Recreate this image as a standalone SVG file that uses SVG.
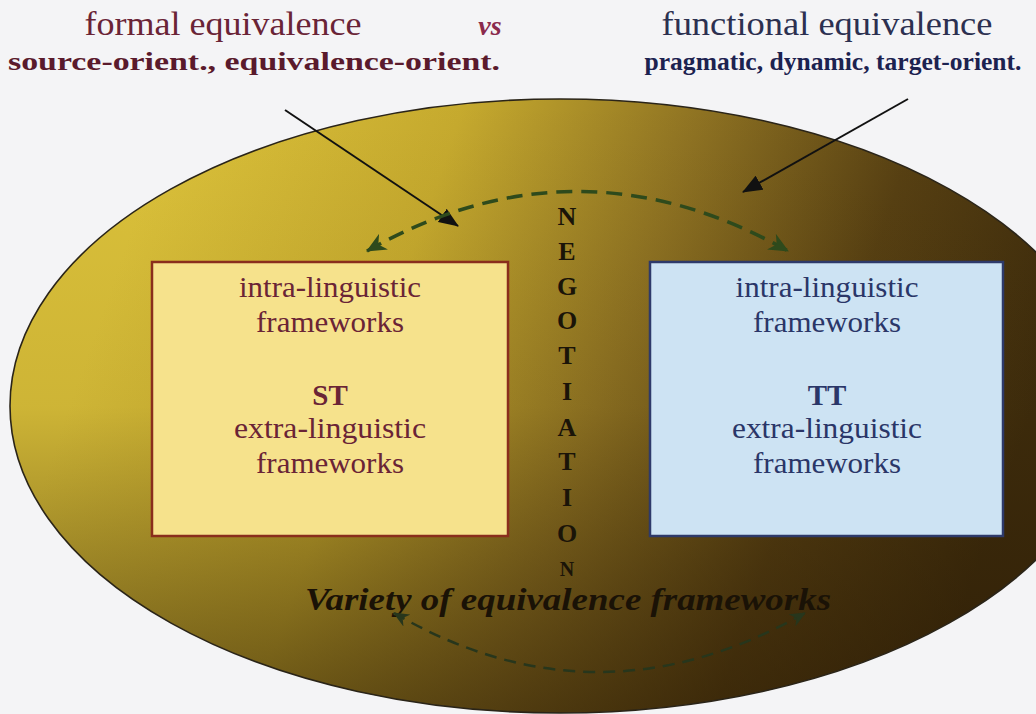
<svg xmlns="http://www.w3.org/2000/svg" width="1036" height="714" viewBox="0 0 1036 714">
  <style>
    .serif { font-family: "Liberation Serif", "Times New Roman", serif; }
    .maroon { fill: #6a2436; }
    .navy { fill: #2a3668; }
    .boxtxt { font-size: 29px; text-anchor: middle; }
    .neg { font-family: "Liberation Serif", serif; font-weight: bold; font-size: 26px; fill: #1a1408; text-anchor: middle; }
    .neg.small { font-size: 20px; }
    .solid { stroke: #111; stroke-width: 2; fill: none; }
    .dash1 { stroke: #2e4a1c; stroke-width: 3.5; fill: none; stroke-dasharray: 16 9; }
    .dash2 { stroke: #27361c; stroke-width: 2.5; fill: none; stroke-dasharray: 12 8; }
  </style>
  <defs>
    <linearGradient id="gold" gradientUnits="userSpaceOnUse" x1="120" y1="260" x2="980" y2="560">
      <stop offset="0" stop-color="#dcc23a"/>
      <stop offset="0.3" stop-color="#c6aa2e"/>
      <stop offset="0.55" stop-color="#8e7222"/>
      <stop offset="0.78" stop-color="#574012"/>
      <stop offset="1" stop-color="#3e2c0c"/>
    </linearGradient>
    <linearGradient id="shade" gradientUnits="userSpaceOnUse" x1="0" y1="100" x2="0" y2="713">
      <stop offset="0" stop-color="#2a1a04" stop-opacity="0"/>
      <stop offset="0.5" stop-color="#2a1a04" stop-opacity="0.08"/>
      <stop offset="1" stop-color="#2a1a04" stop-opacity="0.6"/>
    </linearGradient>
    <marker id="blackHead" viewBox="0 0 20 16" refX="19" refY="8" markerWidth="20" markerHeight="16" markerUnits="userSpaceOnUse" orient="auto">
      <path d="M0,0 L20,8 L0,16 Z" fill="#111"/>
    </marker>
    <marker id="greenHead" viewBox="0 0 20 18" refX="19" refY="9" markerWidth="20" markerHeight="18" markerUnits="userSpaceOnUse" orient="auto-start-reverse">
      <path d="M0,0 L20,9 L0,18 L6,9 Z" fill="#2e4a1c"/>
    </marker>
    <marker id="greenHeadSmall" viewBox="0 0 16 14" refX="15" refY="7" markerWidth="16" markerHeight="14" markerUnits="userSpaceOnUse" orient="auto-start-reverse">
      <path d="M0,0 L16,7 L0,14 L5,7 Z" fill="#27361c"/>
    </marker>
  </defs>

  <rect x="0" y="0" width="1036" height="714" fill="#f4f4f6"/>

  <g id="ellipse">
    <ellipse cx="560" cy="406" rx="550" ry="307" fill="url(#gold)"/>
    <ellipse cx="560" cy="406" rx="550" ry="307" fill="url(#shade)" stroke="#2a2418" stroke-width="1.6"/>
  </g>

  <g id="title-formal" class="serif">
    <text x="223" y="35" font-size="34" text-anchor="middle" class="maroon" textLength="277" lengthAdjust="spacingAndGlyphs">formal equivalence</text>
    <text x="254" y="70" font-size="25" font-weight="bold" text-anchor="middle" fill="#5a1a2c" textLength="492" lengthAdjust="spacingAndGlyphs">source-orient., equivalence-orient.</text>
  </g>
  <g id="vs" class="serif">
    <text x="490" y="35" font-size="28" font-weight="bold" font-style="italic" text-anchor="middle" fill="#8a2a4c">vs</text>
  </g>
  <g id="title-functional" class="serif">
    <text x="827" y="35" font-size="34" text-anchor="middle" fill="#2c3050" textLength="331" lengthAdjust="spacingAndGlyphs">functional equivalence</text>
    <text x="833" y="70" font-size="25" font-weight="bold" text-anchor="middle" fill="#1c2250" textLength="377" lengthAdjust="spacingAndGlyphs">pragmatic, dynamic, target-orient.</text>
  </g>

  <g id="box-st" class="serif">
    <rect x="152" y="262" width="356" height="274" fill="#f6e28c" stroke="#8a2e1c" stroke-width="2.5"/>
    <text x="330" y="297" class="boxtxt maroon" textLength="182" lengthAdjust="spacingAndGlyphs">intra-linguistic</text>
    <text x="330" y="332" class="boxtxt maroon" textLength="148" lengthAdjust="spacingAndGlyphs">frameworks</text>
    <text x="330" y="405" class="boxtxt maroon" font-weight="bold">ST</text>
    <text x="330" y="438" class="boxtxt maroon" textLength="192" lengthAdjust="spacingAndGlyphs">extra-linguistic</text>
    <text x="330" y="473" class="boxtxt maroon" textLength="148" lengthAdjust="spacingAndGlyphs">frameworks</text>
  </g>

  <g id="box-tt" class="serif">
    <rect x="650" y="262" width="353" height="274" fill="#cde3f3" stroke="#2e3a6a" stroke-width="2.5"/>
    <text x="827" y="297" class="boxtxt navy" textLength="183" lengthAdjust="spacingAndGlyphs">intra-linguistic</text>
    <text x="827" y="332" class="boxtxt navy" textLength="148" lengthAdjust="spacingAndGlyphs">frameworks</text>
    <text x="827" y="405" class="boxtxt navy" font-weight="bold">TT</text>
    <text x="827" y="438" class="boxtxt navy" textLength="190" lengthAdjust="spacingAndGlyphs">extra-linguistic</text>
    <text x="827" y="473" class="boxtxt navy" textLength="148" lengthAdjust="spacingAndGlyphs">frameworks</text>
  </g>

  <g id="negotiation">
    <text class="neg" x="567" y="225">N</text>
    <text class="neg" x="567" y="260">E</text>
    <text class="neg" x="567" y="295">G</text>
    <text class="neg" x="567" y="329">O</text>
    <text class="neg" x="567" y="364">T</text>
    <text class="neg" x="567" y="400">I</text>
    <text class="neg" x="567" y="436">A</text>
    <text class="neg" x="567" y="470">T</text>
    <text class="neg" x="567" y="506">I</text>
    <text class="neg" x="567" y="542">O</text>
    <text class="neg small" x="567" y="576">N</text>
  </g>

  <g id="variety">
    <text x="568" y="610" font-family="Liberation Serif, serif" font-size="32" font-weight="bold" font-style="italic" fill="#1a1206" text-anchor="middle" textLength="526" lengthAdjust="spacingAndGlyphs">Variety of equivalence frameworks</text>
  </g>

  <g id="connectors">
    <line class="solid" x1="285" y1="110" x2="458" y2="226" marker-end="url(#blackHead)"/>
    <line class="solid" x1="908" y1="99" x2="743" y2="192" marker-end="url(#blackHead)"/>
    <path class="dash1" d="M367,251 Q577,132 788,251" marker-start="url(#greenHead)" marker-end="url(#greenHead)"/>
    <path class="dash2" d="M394,613 Q597,731 805,613" marker-start="url(#greenHeadSmall)" marker-end="url(#greenHeadSmall)"/>
  </g>
</svg>
